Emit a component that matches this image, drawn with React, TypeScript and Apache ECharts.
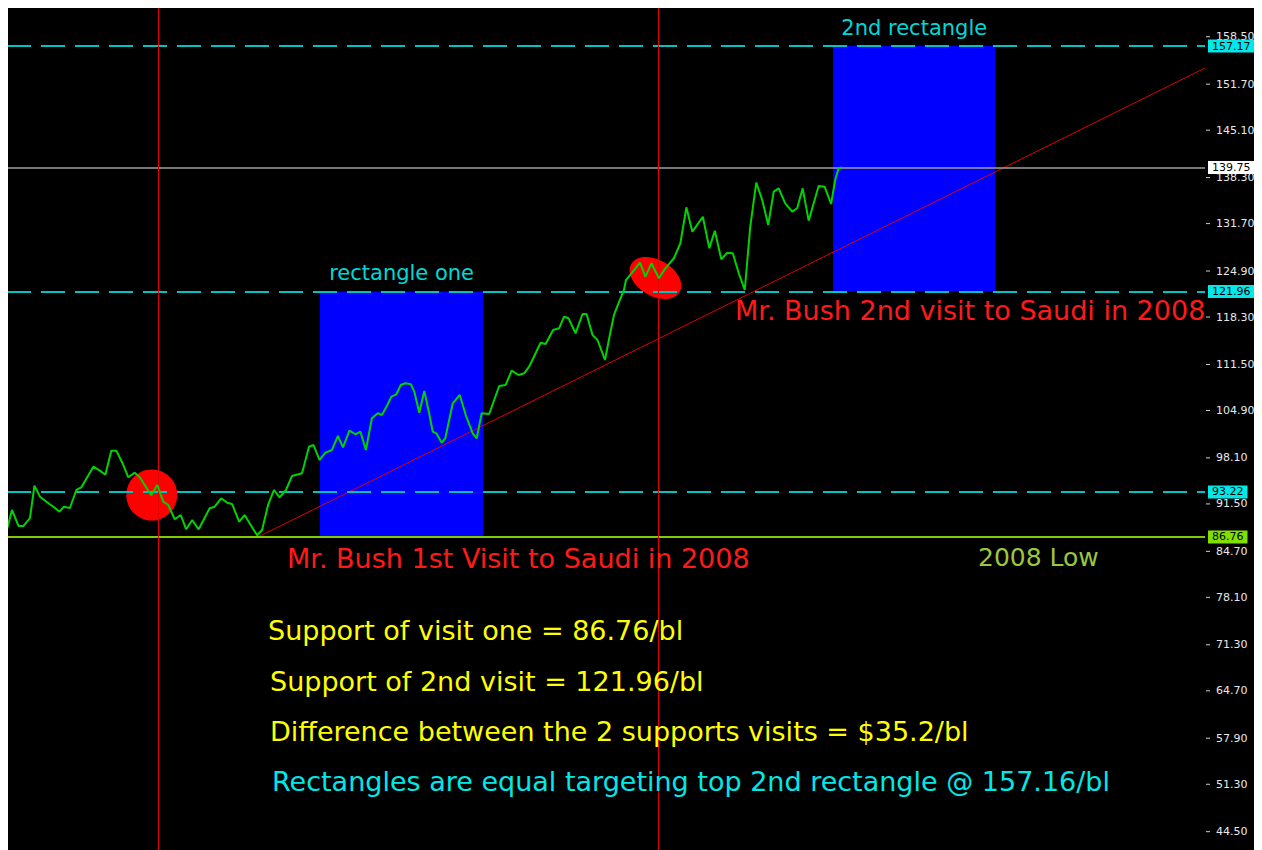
import React, { useEffect, useRef } from "react";
import * as echarts from "echarts";

// Trading-day index (x) and closing price (y) of the crude oil chart
const days = [
  0, 1.0, 2.3, 3.3, 4.6, 5.5, 6.6, 8.5, 9.3, 10.5, 11.4, 12.6, 13.9, 14.9, 17.3, 18.6, 19.7, 20.9, 21.9, 23.1,
  24.3, 25.6, 26.6, 28.9, 30.1, 31.3, 32.3, 33.6, 34.8, 35.9, 37.1, 38.4, 40.6, 41.6, 42.9, 44.1, 45.1, 46.5, 47.6, 50.1,
  51.1, 52.3, 53.5, 54.6, 55.9, 57.1, 59.1, 60.5, 61.4, 62.6, 63.8, 65.1, 66.3, 67.3, 68.6, 69.8, 70.8, 71.9, 73.1, 74.3,
  75.1, 76.1, 77.0, 78.0, 78.9, 79.8, 80.9, 81.6, 82.6, 83.6, 84.5, 85.3, 86.0, 87.1, 87.8, 89.3, 90.7, 91.9, 93.3, 94.1,
  95.1, 96.6, 98.6, 99.9, 101.1, 102.5, 103.6, 104.6, 106.9, 107.9, 109.4, 110.6, 111.6, 112.5, 113.9, 115.3, 116.1, 117.3, 118.3, 119.8,
  120.7, 121.6, 122.5, 123.6, 124.0, 125.1, 126.8, 127.9, 129.1, 130.6, 131.9, 133.6, 134.9, 136.1, 137.3, 139.4, 140.7, 141.8, 143.1, 144.3,
  145.4, 146.6, 147.8, 148.9, 150.1, 151.3, 152.5, 153.6, 154.6, 155.9, 157.3, 158.3, 159.4, 160.6, 162.6, 163.8, 165.1, 165.9, 166.6, 167.3,
];
const prices = [
  87.86, 90.63, 88.34, 88.34, 89.48, 94.12, 92.54, 91.49, 91.1, 90.39, 91.1, 90.92, 93.5, 93.89, 96.84, 96.27, 95.69, 99.14, 99.14, 97.41,
  95.32, 95.98, 95.32, 92.74, 94.22, 91.82, 91.35, 89.3, 89.91, 87.86, 89.2, 87.86, 90.88, 91.1, 92.31, 91.68, 91.49, 88.95, 89.91, 87.0,
  87.76, 91.35, 93.5, 92.45, 93.5, 95.51, 95.89, 99.71, 99.95, 97.8, 98.85, 99.24, 101.24, 99.62, 102.0, 101.49, 101.86, 99.24, 103.78, 104.5,
  104.25, 105.55, 106.88, 107.22, 108.56, 108.8, 108.66, 107.6, 104.58, 107.7, 104.73, 101.86, 101.63, 100.28, 100.91, 105.93, 107.12, 104.25, 101.63, 100.91,
  104.5, 104.4, 108.41, 108.56, 110.61, 109.99, 110.23, 111.18, 114.62, 114.44, 116.44, 116.69, 118.35, 118.12, 115.97, 118.74, 118.74, 115.73, 115.01, 112.14,
  115.48, 118.6, 120.27, 122.18, 123.61, 124.57, 126.1, 124.09, 126.01, 123.86, 125.29, 126.73, 128.88, 134.04, 130.54, 132.69, 128.16, 130.68, 126.58, 127.53,
  127.44, 124.58, 122.18, 131.26, 137.57, 135.09, 131.5, 136.28, 136.76, 134.61, 133.41, 133.9, 136.76, 132.12, 137.09, 136.99, 134.51, 137.95, 139.63, 139.75,
];

const tickValues = [44.5, 51.3, 57.9, 64.7, 71.3, 78.1, 84.7, 91.5, 98.1, 104.9, 111.5, 118.3, 124.9, 131.7, 138.3, 145.1, 151.7, 158.5];
const cyanLevels = [157.17, 121.96, 93.22];
const yearLow = 86.76;
const lastPrice = 139.75;
const eventDays = [30.3, 130.5];
const rectDays = [[62.7, 95.4], [165.5, 198.0]];
const rectPrices = [[86.76, 121.96], [121.96, 157.17]];
const rectLabels = ["rectangle one", "2nd rectangle"];
const trendDays = [50.3, 240];
const trendPrices = [86.76, 154.01];
const blobDays = [29.0, 129.9];
const blobPrices = [92.78, 123.9];

const notes = [
  { text: "Mr. Bush 2nd visit to Saudi in 2008", color: "#ff1a1a", size: 27, x: 728, y: 307 },
  { text: "Mr. Bush 1st Visit to Saudi in 2008", color: "#ff1a1a", size: 27, x: 280, y: 555 },
  { text: "2008 Low", color: "#9ac83a", size: 25, x: 971, y: 554 },
  { text: "Support of visit one = 86.76/bl", color: "#ffff00", size: 27, x: 261, y: 627 },
  { text: "Support of 2nd visit = 121.96/bl", color: "#ffff00", size: 27, x: 263, y: 678 },
  { text: "Difference between the 2 supports visits = $35.2/bl", color: "#ffff00", size: 27, x: 263, y: 728 },
  { text: "Rectangles are equal targeting top 2nd rectangle @ 157.16/bl", color: "#00e8e8", size: 27, x: 265, y: 778 },
];

export default function App() {
  const ref = useRef<HTMLDivElement>(null);
  useEffect(() => {
    if (!ref.current) return;
    const chart = echarts.init(ref.current, null, { renderer: "svg" });
    const badge = (v: number, bg: string) => ({
      yAxis: v,
      name: v.toFixed(2),
      label: { backgroundColor: bg },
    });
    const option: any = {
      animation: false,
      backgroundColor: "#000000",
      grid: { left: 0, right: 57, top: 2, bottom: 0, containLabel: false },
      xAxis: {
        type: "value",
        min: 0,
        max: 240,
        position: "top",
        axisLine: { show: true, onZero: false, lineStyle: { color: "#b8b8b8", width: 2 } },
        axisTick: { show: false },
        axisLabel: { show: false },
        splitLine: { show: false },
      },
      yAxis: {
        type: "value",
        min: 41.87,
        max: 163.05,
        position: "right",
        axisLine: { show: true, lineStyle: { color: "#d0d0d0", width: 1 } },
        axisTick: { show: false },
        axisLabel: {
          customValues: tickValues,
          formatter: (v: number) => `{t|}{v|${v.toFixed(2)}}`,
          color: "#e8e8e8",
          fontSize: 11,
          fontFamily: "DejaVu Sans",
          margin: 1,
          rich: {
            t: { width: 4, height: 1, backgroundColor: "#d0d0d0" },
            v: { padding: [0, 0, 0, 6], color: "#e8e8e8", fontSize: 11, fontFamily: "DejaVu Sans" },
          },
        },
        splitLine: { show: false },
      },
      graphic: notes.map((n) => ({
        type: "text",
        x: n.x,
        y: n.y,
        z: 100,
        style: {
          text: n.text,
          fill: n.color,
          fontSize: n.size,
          fontFamily: "DejaVu Sans",
          verticalAlign: "middle",
        },
      })),
      series: [
        {
          type: "line",
          data: [],
          z: 1,
          markLine: {
            silent: true,
            symbol: ["none", "none"],
            label: {
              show: true,
              position: "end",
              distance: 3,
              formatter: "{b}",
              color: "#000000",
              fontSize: 11,
              fontFamily: "DejaVu Sans",
              padding: [1, 4, 1, 4],
            },
            data: [
              ...cyanLevels.map((v) => ({
                ...badge(v, "#00e8e8"),
                lineStyle: { color: "#00c4c4", width: 2, type: [24, 10] },
              })),
              { ...badge(yearLow, "#80e000"), lineStyle: { color: "#80cc00", width: 2, type: "solid" } },
              { ...badge(lastPrice, "#ffffff"), lineStyle: { color: "#a0a0a0", width: 1.5, type: "solid" } },
            ],
          },
        },
        {
          type: "line",
          data: [],
          z: 2,
          markArea: {
            silent: true,
            itemStyle: { color: "#0000ff", opacity: 1 },
            label: {
              show: true,
              position: "top",
              distance: 8,
              color: "#00d8d8",
              fontSize: 21,
              fontFamily: "DejaVu Sans",
            },
            data: rectDays.map((d, i) => [
              { name: rectLabels[i], coord: [d[0], rectPrices[i][1]] },
              { coord: [d[1], rectPrices[i][0]] },
            ]),
          },
        },
        {
          type: "scatter",
          z: 3,
          itemStyle: { color: "#ff0000", opacity: 1 },
          data: [
            { value: [blobDays[0], blobPrices[0]], symbolSize: 51 },
            { value: [blobDays[1], blobPrices[1]], symbolSize: [56, 36], symbolRotate: -30 },
          ],
        },
        {
          type: "line",
          z: 4,
          symbol: "none",
          lineStyle: { color: "#e00000", width: 1 },
          data: trendDays.map((d, i) => [d, trendPrices[i]]),
        },
        {
          type: "line",
          z: 5,
          symbol: "none",
          lineStyle: { color: "#00d400", width: 2 },
          data: days.map((d, i) => [d, prices[i]]),
        },
        {
          type: "line",
          data: [],
          z: 6,
          markLine: {
            silent: true,
            symbol: ["none", "none"],
            label: { show: false },
            lineStyle: { color: "#e00000", width: 1, type: "solid" },
            data: eventDays.map((d) => ({ xAxis: d })),
          },
        },
      ],
    };
    chart.setOption(option);
    return () => chart.dispose();
  }, []);
  return (
    <div
      ref={ref}
      style={{ width: 1255, height: 847, marginLeft: -1, marginTop: -5 }}
    />
  );
}
